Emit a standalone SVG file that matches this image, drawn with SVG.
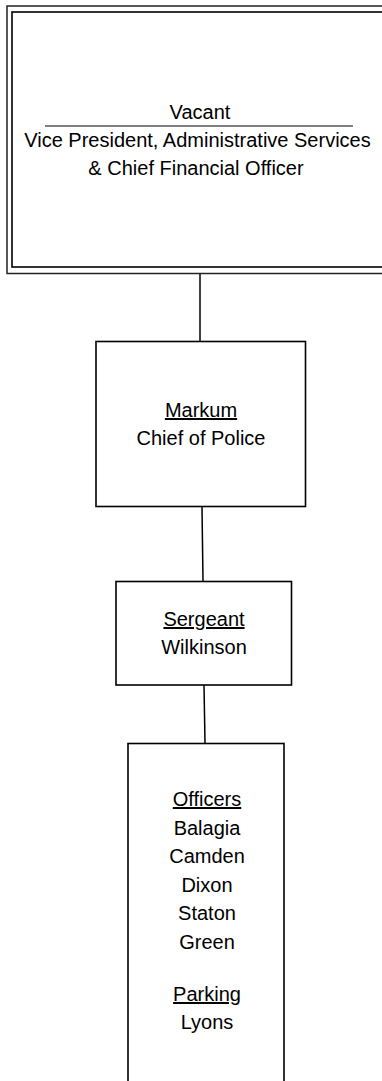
<svg xmlns="http://www.w3.org/2000/svg" width="382" height="1081" viewBox="0 0 382 1081">
<style>
.box{fill:#fff;stroke:#000;stroke-width:1.6}
.outer{fill:#fff;stroke:#222;stroke-width:1.5}
.t{font-family:"Liberation Sans",Arial,sans-serif;font-size:20px;fill:#000;text-anchor:middle}
.u{text-decoration:underline}
.c{stroke:#000;stroke-width:1.5;fill:none}
</style>
<rect width="382" height="1081" fill="#fff"/>
<g id="connectors">
<line class="c" x1="200" y1="274" x2="200" y2="341"/>
<line class="c" x1="202" y1="507" x2="203" y2="581"/>
<line class="c" x1="204" y1="685" x2="205" y2="743"/>
</g>
<g id="vp">
<rect class="outer" x="7" y="6" width="390" height="267.5"/>
<rect class="box" x="12" y="12" width="380" height="255"/>
<text class="t" x="200" y="119">Vacant</text>
<line x1="45" y1="126" x2="353" y2="126" stroke="#000" stroke-width="1.2"/>
<text class="t" x="197.5" y="147">Vice President, Administrative Services</text>
<text class="t" x="196" y="175">&amp; Chief Financial Officer</text>
</g>
<g id="chief">
<rect class="box" x="96" y="341.5" width="209.5" height="165"/>
<text class="t u" x="201" y="417">Markum</text>
<text class="t" x="201" y="445">Chief of Police</text>
</g>
<g id="sergeant">
<rect class="box" x="116" y="581.5" width="175.5" height="103.5"/>
<text class="t u" x="204" y="626">Sergeant</text>
<text class="t" x="204" y="654">Wilkinson</text>
</g>
<g id="officers">
<rect class="box" x="128" y="743.5" width="156" height="350"/>
<text class="t u" x="207" y="806">Officers</text>
<text class="t" x="207" y="834.5">Balagia</text>
<text class="t" x="207" y="863">Camden</text>
<text class="t" x="207" y="891.5">Dixon</text>
<text class="t" x="207" y="920">Staton</text>
<text class="t" x="207" y="948.5">Green</text>
<text class="t u" x="207" y="1001">Parking</text>
<text class="t" x="207" y="1029">Lyons</text>
</g>
</svg>
